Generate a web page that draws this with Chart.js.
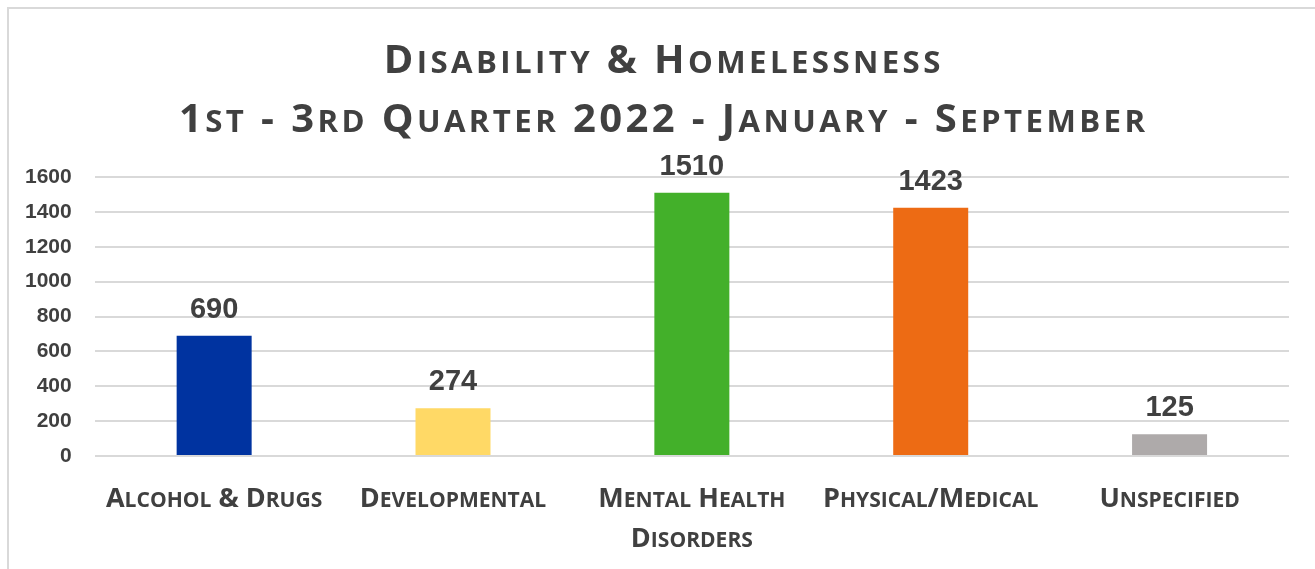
<!DOCTYPE html>
<html>
<head>
<meta charset="utf-8">
<title>Disability &amp; Homelessness</title>
<script src="https://cdn.jsdelivr.net/npm/chart.js@4/dist/chart.umd.min.js"></script>
<style>
    html, body { margin: 0; padding: 0; background: #fff; overflow: hidden; }
    #wrap { position: relative; width: 1315px; height: 569px; }
    #frame {
        position: absolute; left: 7px; top: 7px;
        width: 1400px; height: 700px;
        border-left: 2px solid #d9d9d9; border-top: 2px solid #d9d9d9;
    }
    #chart { position: absolute; left: 0; top: 0; }
</style>
</head>
<body>
<div id="wrap">
    <div id="frame"></div>
    <canvas id="chart" width="1315" height="569"></canvas>
</div>
<script>
// Chart data
const categories = [
    ['Alcohol & Drugs'],
    ['Developmental'],
    ['Mental Health', 'Disorders'],
    ['Physical/Medical'],
    ['Unspecified']
];
const counts = [690, 274, 1510, 1423, 125];
const barColors = ['#0033A0', '#FFD966', '#43B02A', '#ED6B14', '#AEAAAA'];
const titleLines = ['Disability & Homelessness', '1st - 3rd Quarter 2022 - January - September'];

const TEXT_COLOR = '#404040';
const CAPS_FONT = '"Open Sans", Lato, sans-serif';
const NUM_FONT = '"Liberation Sans", Arial, sans-serif';
const SMALL_CAPS_RATIO = 0.78;

// canvas has no reliable small-caps, so lowercase letters are drawn as shrunken capitals,
// one glyph at a time so extra tracking can be added
function drawSmallCaps(ctx, text, cx, baseline, size, spacing) {
    const glyphs = [];
    let total = 0;
    for (const ch of text) {
        const small = ch !== ch.toUpperCase();
        const g = { text: ch.toUpperCase(), size: small ? size * SMALL_CAPS_RATIO : size };
        ctx.font = 'bold ' + g.size + 'px ' + CAPS_FONT;
        g.w = ctx.measureText(g.text).width;
        glyphs.push(g);
        total += g.w;
    }
    total += spacing * (glyphs.length - 1);
    let x = cx - total / 2;
    ctx.textAlign = 'left';
    ctx.textBaseline = 'alphabetic';
    glyphs.forEach(g => {
        ctx.font = 'bold ' + g.size + 'px ' + CAPS_FONT;
        ctx.fillText(g.text, x, baseline);
        x += g.w + spacing;
    });
}

const captionPlugin = {
    id: 'captionPlugin',
    afterDraw: function(chart) {
        const ctx = chart.ctx;
        ctx.save();
        ctx.fillStyle = TEXT_COLOR;

        // two-line heading
        drawSmallCaps(ctx, titleLines[0], 662, 73, 40, 3.4);
        drawSmallCaps(ctx, titleLines[1], 662, 132, 40, 3.4);

        // category names under each bar
        const xScale = chart.scales.x;
        categories.forEach((lines, i) => {
            const cx = xScale.getPixelForValue(i);
            lines.forEach((line, j) => {
                drawSmallCaps(ctx, line, cx, 507 + j * 40, 27, 0);
            });
        });
        ctx.restore();
    }
};

const valueLabelPlugin = {
    id: 'valueLabelPlugin',
    afterDatasetsDraw: function(chart) {
        const ctx = chart.ctx;
        const meta = chart.getDatasetMeta(0);
        ctx.save();
        ctx.fillStyle = TEXT_COLOR;
        ctx.font = 'bold 29px ' + NUM_FONT;
        ctx.textAlign = 'center';
        ctx.textBaseline = 'alphabetic';
        meta.data.forEach((bar, i) => {
            ctx.fillText(String(counts[i]), bar.x, bar.y - 18);
        });
        ctx.restore();
    }
};

const ctx = document.getElementById('chart').getContext('2d');
new Chart(ctx, {
    type: 'bar',
    data: {
        labels: categories.map(c => c.join(' ')),
        datasets: [{
            data: counts,
            backgroundColor: barColors,
            borderWidth: 0,
            barPercentage: 0.314,
            categoryPercentage: 1.0
        }]
    },
    options: {
        responsive: false,
        animation: false,
        layout: {
            padding: { left: 2, right: 26, top: 177, bottom: 113 }
        },
        scales: {
            x: {
                display: false
            },
            y: {
                min: 0,
                max: 1600,
                ticks: {
                    stepSize: 200,
                    padding: 23,
                    color: TEXT_COLOR,
                    font: { family: NUM_FONT, size: 21, weight: 'bold' },
                    callback: function(value) {
                        return String(value); // no thousands separator
                    }
                },
                border: { display: false },
                grid: {
                    color: '#d9d9d9',
                    lineWidth: 2,
                    drawTicks: false
                }
            }
        },
        plugins: {
            legend: { display: false },
            tooltip: { enabled: false }
        }
    },
    plugins: [valueLabelPlugin, captionPlugin]
});
</script>
</body>
</html>
